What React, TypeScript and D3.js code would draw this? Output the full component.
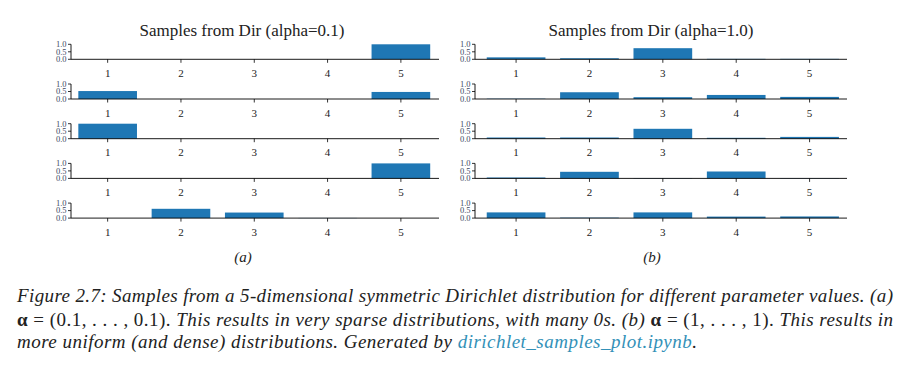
import { useLayoutEffect, useRef } from "react";
import * as d3 from "d3";

const categories = [1, 2, 3, 4, 5];

// each row is one Dirichlet sample
const samplesSparse: number[][] = [
  [0, 0, 0, 0, 1.0],
  [0.53, 0, 0, 0, 0.47],
  [1.0, 0, 0, 0, 0],
  [0, 0, 0, 0, 1.0],
  [0, 0.62, 0.37, 0.01, 0],
];

const samplesDense: number[][] = [
  [0.13, 0.07, 0.74, 0.03, 0.03],
  [0.02, 0.45, 0.12, 0.27, 0.14],
  [0.08, 0.08, 0.66, 0.06, 0.12],
  [0.06, 0.44, 0.02, 0.46, 0.02],
  [0.38, 0.03, 0.38, 0.1, 0.11],
];

const yTicks = [0, 0.5, 1.0];
const titles = ["Samples from Dir (alpha=0.1)", "Samples from Dir (alpha=1.0)"];
const subLabels = ["(a)", "(b)"];

const W = 908;
const H = 367;
const barColor = "#1f77b4";
const serif = { fontFamily: "Liberation Serif, DejaVu Serif, Times New Roman, serif" };

const rowBase = 59.3;
const rowStep = 39.7;
const rowH = 15;

// target widths of the caption lines
const capWidths = [876, 876, 680];

const panels = [
  { data: samplesSparse, xlim: [0.5, 5.52], range: [71, 439], titleX: 242, subX: 243 },
  { data: samplesDense, xlim: [0.44, 5.51], range: [475, 847], titleX: 651, subX: 652 },
];

const Panel = ({ p, idx }: { p: (typeof panels)[number]; idx: number }) => {
  const x = d3.scaleLinear().domain(p.xlim).range(p.range);
  const step = x(2) - x(1);
  const bw = step * 0.8;
  return (
    <g>
      <text x={p.titleX} y={36} fontSize={17} textAnchor="middle" style={serif} fill="#222">
        {titles[idx]}
      </text>
      {p.data.map((row, r) => {
        const base = rowBase + r * rowStep;
        const y = d3.scaleLinear().domain([0, 1]).range([base, base - rowH]);
        return (
          <g key={r}>
            {row.map((v, i) => (
              <rect
                key={i}
                x={x(categories[i]) - bw / 2}
                y={y(v)}
                width={bw}
                height={Math.max(0, base - y(v))}
                fill={barColor}
              />
            ))}
            {/* y axis */}
            <line x1={p.range[0]} x2={p.range[0]} y1={y(0)} y2={y(1)} stroke="#000" strokeWidth={0.9} />
            {yTicks.map((t) => (
              <g key={t}>
                <line x1={p.range[0] - 3} x2={p.range[0]} y1={y(t)} y2={y(t)} stroke="#000" strokeWidth={0.8} />
                <text
                  x={p.range[0] - 4.5}
                  y={y(t) + 2.8}
                  fontSize={8.5}
                  textAnchor="end"
                  style={serif}
                  fill="#3d4761"
                >
                  {t.toFixed(1)}
                </text>
              </g>
            ))}
            {/* x axis */}
            <line x1={p.range[0]} x2={p.range[1]} y1={base} y2={base} stroke="#000" strokeWidth={0.9} />
            {categories.map((c) => (
              <g key={c}>
                <line x1={x(c)} x2={x(c)} y1={base} y2={base + 3.5} stroke="#000" strokeWidth={0.8} />
                <text x={x(c)} y={base + 17.5} fontSize={11} textAnchor="middle" style={serif} fill="#222">
                  {c}
                </text>
              </g>
            ))}
          </g>
        );
      })}
      <text x={p.subX} y={262} fontSize={15} textAnchor="middle" style={serif} fontStyle="italic" fill="#222">
        {subLabels[idx]}
      </text>
    </g>
  );
};

const App = () => {
  const capRefs = useRef<(SVGTextElement | null)[]>([]);

  // stretch each caption line to its width with letter spacing
  useLayoutEffect(() => {
    capRefs.current.forEach((el, i) => {
      if (!el) return;
      el.style.letterSpacing = "0px";
      const len = el.getComputedTextLength();
      const n = (el.textContent || "").length;
      const ls = (capWidths[i] - len) / Math.max(1, n - 1);
      el.style.letterSpacing = `${ls}px`;
    });
  }, []);

  return (
    <svg width={W} height={H} style={{ position: "absolute", left: 0, top: 0, background: "#fff" }}>
      <rect width={W} height={H} fill="#fff" />
      {panels.map((p, i) => (
        <Panel key={i} p={p} idx={i} />
      ))}
      <g style={serif} fontSize={19} fill="#222">
        <text ref={(el) => (capRefs.current[0] = el)} x={17} y={302} fontStyle="italic">
          Figure 2.7: Samples from a 5-dimensional symmetric Dirichlet distribution for different parameter values. (a)
        </text>
        <text ref={(el) => (capRefs.current[1] = el)} x={17} y={326}>
          <tspan fontWeight="bold">α</tspan>
          <tspan> = (0.1, . . . , 0.1). </tspan>
          <tspan fontStyle="italic">This results in very sparse distributions, with many 0s. (b) </tspan>
          <tspan fontWeight="bold">α</tspan>
          <tspan> = (1, . . . , 1). </tspan>
          <tspan fontStyle="italic">This results in</tspan>
        </text>
        <text ref={(el) => (capRefs.current[2] = el)} x={17} y={348} fontStyle="italic">
          <tspan>more uniform (and dense) distributions. Generated by </tspan>
          <tspan fill="#3391b8">dirichlet_samples_plot.ipynb</tspan>
          <tspan>.</tspan>
        </text>
      </g>
    </svg>
  );
};

export default App;
